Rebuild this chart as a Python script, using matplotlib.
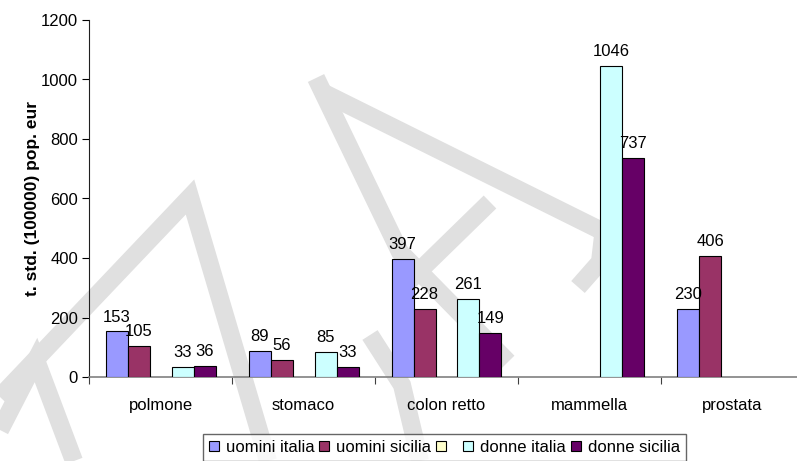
import numpy as np
import matplotlib
matplotlib.use('Agg')
import matplotlib.pyplot as plt
from matplotlib.lines import Line2D
from matplotlib.patches import Patch

plt.rcParams['font.family'] = ['Liberation Sans', 'DejaVu Sans']
plt.rcParams['font.size'] = 12

# dati
categorie = ['polmone', 'stomaco', 'colon retto', 'mammella', 'prostata']
uomini_italia = [153, 89, 397, None, 230]
uomini_sicilia = [105, 56, 228, None, 406]
serie_vuota = [None, None, None, None, None]
donne_italia = [33, 85, 261, 1046, None]
donne_sicilia = [36, 33, 149, 737, None]

serie = [
    ('uomini italia', uomini_italia, '#9999FF'),
    ('uomini sicilia', uomini_sicilia, '#993366'),
    (' ', serie_vuota, '#FFFFCC'),
    ('donne italia', donne_italia, '#CCFFFF'),
    ('donne sicilia', donne_sicilia, '#660066'),
]

W, H = 797, 461
fig = plt.figure(figsize=(W / 100, H / 100), dpi=100)


def px(x, y):
    return x / W, 1 - y / H


# filigrana grigia sullo sfondo
tratti = [
    [(0, 397), (190, 197), (268, 461)],
    [(0, 430), (36, 360), (74, 461)],
    [(322, 92), (612, 236)],
    [(316, 78), (400, 252), (508, 362)],
    [(490, 202), (408, 282)],
    [(603, 236), (600, 262), (578, 287)],
    [(370, 335), (402, 385), (420, 461)],
]
for t in tratti:
    xs, ys = zip(*[px(a, b) for a, b in t])
    fig.add_artist(Line2D(xs, ys, transform=fig.transFigure, color='#e0e0e0',
                          lw=13, solid_capstyle='butt', solid_joinstyle='miter',
                          zorder=-5))

ax = fig.add_axes([89 / W, 1 - 377 / H, 715 / W, 357 / H])
ax.set_facecolor('none')

x = np.arange(len(categorie))
w = 1 / 6.5
handles = []
for i, (nome, valori, colore) in enumerate(serie):
    off = (i - 2) * w
    xs = [x[j] + off for j, v in enumerate(valori) if v is not None]
    vs = [v for v in valori if v is not None]
    if vs:
        ax.bar(xs, vs, width=w, color=colore, edgecolor='black', linewidth=0.8, zorder=3)
        for xi, v in zip(xs, vs):
            ax.annotate(str(v), (xi, v), xytext=(0, 5), textcoords='offset points',
                        ha='center', va='bottom', zorder=4)
    handles.append(Patch(facecolor=colore, edgecolor='black', linewidth=0.8, label=nome))

ax.set_xlim(-0.5, len(categorie) - 0.5)
ax.set_ylim(0, 1200)
ax.set_yticks(range(0, 1201, 200))
ax.set_xticks(np.arange(-0.5, len(categorie), 1))
ax.set_xticklabels([])
ax.set_xticks(x, minor=True)
ax.set_xticklabels(categorie, minor=True)
ax.tick_params(axis='x', which='major', length=5, color='#404040', direction='out')
ax.tick_params(axis='x', which='minor', length=0, pad=15)
ax.tick_params(axis='y', length=5, direction='out', pad=3)

for s in ['top', 'right']:
    ax.spines[s].set_visible(False)
ax.spines['left'].set_color('#202020')
ax.spines['bottom'].set_color('#808080')
ax.spines['bottom'].set_linewidth(1.2)

fig.text(33 / W, 1 - 198 / H, 't. std. (100000) pop. eur', rotation=90,
         ha='center', va='center', fontsize=12.5, fontweight='bold')

leg = fig.legend(handles, [h.get_label() for h in handles], loc='upper left',
                 bbox_to_anchor=px(203, 434), ncol=5, frameon=True, fancybox=False,
                 handlelength=0.6, handleheight=0.6, handletextpad=0.42,
                 columnspacing=0.3, borderpad=0.35, borderaxespad=0)
leg.get_frame().set_edgecolor('#404040')
leg.get_frame().set_linewidth(1.0)

fig.savefig('out.png', dpi=100)
